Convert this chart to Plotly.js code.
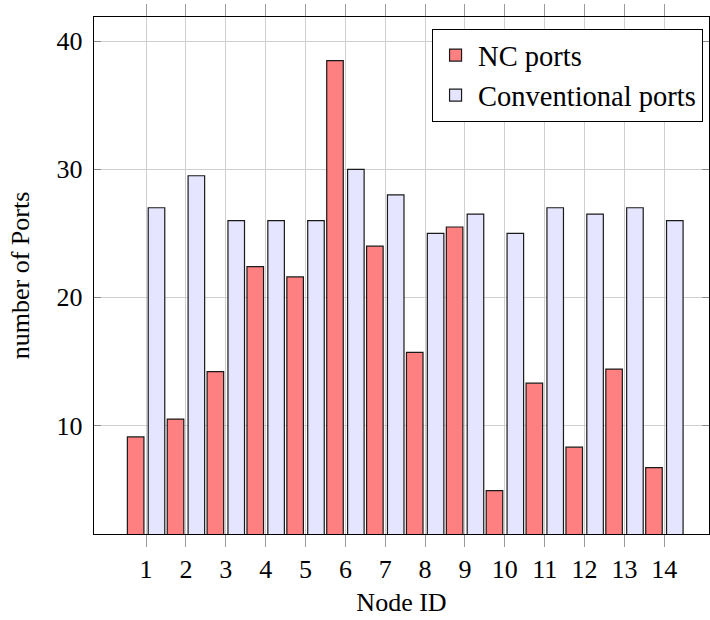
<!DOCTYPE html>
<html>
<head>
<meta charset="utf-8">
<script src="https://cdn.plot.ly/plotly-3.0.1.min.js"></script>
<style>html,body{margin:0;padding:0;background:#fff;}#chart{width:710px;height:620px;}</style>
</head>
<body>
<div id="chart"></div>
<script>
const nodeIds = [1,2,3,4,5,6,7,8,9,10,11,12,13,14];
const ncPorts = [9.1,10.5,14.2,22.4,21.6,38.5,24.0,15.7,25.5,4.9,13.3,8.3,14.4,6.7];
const conventionalPorts = [27.0,29.5,26.0,26.0,26.0,30.0,28.0,25.0,26.5,25.0,27.0,26.5,27.0,26.0];
const seriesNames = ["NC ports","Conventional ports"];
const yTicks = [10,20,30,40];

const FONT = "Liberation Serif, Times New Roman, serif";

const traces = [
  {type:"bar", name:seriesNames[0], x:nodeIds, y:ncPorts, width:0.415, offset:-0.468,
   marker:{color:"#ff8080", line:{color:"#1a1a1a", width:1.2}}},
  {type:"bar", name:seriesNames[1], x:nodeIds, y:conventionalPorts, width:0.415, offset:0.055,
   marker:{color:"#e5e5ff", line:{color:"#1a1a1a", width:1.2}}}
];

const layout = {
  width:710, height:620,
  margin:{l:94, r:1, t:17, b:86, pad:0},
  paper_bgcolor:"#fff", plot_bgcolor:"#fff",
  barmode:"overlay",
  font:{family:FONT, size:26, color:"#000"},
  showlegend:true,
  legend:{x:0.990, xanchor:"right", y:0.977, yanchor:"top",
    bgcolor:"#fff", bordercolor:"#000", borderwidth:1.2,
    font:{family:FONT, size:28.5, color:"#000"}, itemwidth:35, tracegroupgap:0},
  xaxis:{range:[-0.305, 15.12], tickmode:"array", tickvals:nodeIds, ticktext:nodeIds.map(String),
    showgrid:true, gridcolor:"#cfcfcf", gridwidth:1,
    ticks:"outside", ticklen:12, tickcolor:"#9a9a9a", tickwidth:1,
    showline:true, linecolor:"#000", linewidth:1.2, mirror:"ticks",
    zeroline:false, ticklabelstandoff:0,
    tickfont:{family:FONT, size:26, color:"#000"},
    title:{text:"Node ID", font:{family:FONT, size:26, color:"#000"}, standoff:9}},
  yaxis:{range:[1.52, 41.9], tickmode:"array", tickvals:yTicks, ticktext:yTicks.map(String),
    showgrid:true, gridcolor:"#cfcfcf", gridwidth:1,
    ticks:"inside", ticklen:7, tickcolor:"#8a8a8a", tickwidth:1,
    showline:true, linecolor:"#000", linewidth:1.2, mirror:"ticks",
    zeroline:false, ticklabelstandoff:5,
    tickfont:{family:FONT, size:26, color:"#000"},
    title:{text:"number of Ports", font:{family:FONT, size:26, color:"#000"}, standoff:19}}
};

Plotly.newPlot("chart", traces, layout, {displayModeBar:false, staticPlot:true});
</script>
</body>
</html>
